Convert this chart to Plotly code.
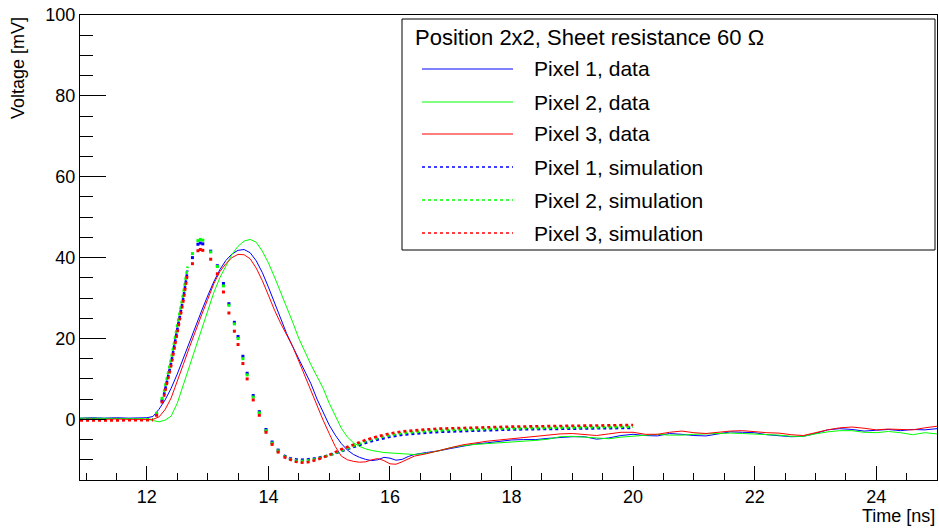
import plotly.graph_objects as go

# ---------------- data ----------------
data_t = [10.9, 11.1, 11.3, 11.5, 11.7, 11.9,
          12.0, 12.1, 12.2, 12.3, 12.4, 12.5, 12.6, 12.7, 12.8, 12.9,
          13.0, 13.1, 13.2, 13.3, 13.4, 13.5, 13.6, 13.7, 13.8, 13.9,
          14.0, 14.1, 14.2, 14.3, 14.4, 14.5, 14.6, 14.7, 14.8, 14.9,
          15.0, 15.1, 15.2, 15.3, 15.4, 15.5, 15.6, 15.7, 15.8, 15.9,
          16.0, 16.1, 16.2, 16.3, 16.4,
          16.6, 16.8, 17.0, 17.2, 17.4, 17.6, 17.8, 18.0, 18.2, 18.4,
          18.6, 18.8, 19.0, 19.2, 19.4, 19.6, 19.8, 20.0, 20.2, 20.4,
          20.6, 20.8, 21.0, 21.2, 21.4, 21.6, 21.8, 22.0, 22.2, 22.4,
          22.6, 22.8, 23.0, 23.2, 23.4, 23.6, 23.8, 24.0, 24.2, 24.4,
          24.6, 24.8, 25.0]

data_p1 = [0.3, 0.4, 0.3, 0.4, 0.3, 0.3,
           0.4, 0.7, 2.5, 4.8, 7.7, 11.2, 15.2, 19.0, 23.0, 26.8,
           30.5, 34.0, 37.0, 39.3, 40.9, 41.8, 42.0, 41.2, 39.2, 36.3,
           32.7, 28.8, 24.6, 21.2, 18.0, 14.9, 12.0, 8.8, 5.0, 1.6,
           -1.4, -3.9, -6.0, -7.6, -8.7, -9.4, -9.9, -10.2, -10.0, -9.4,
           -9.6, -10.1, -9.9, -9.2, -8.7,
           -8.2, -7.8, -7.2, -6.6, -6.1, -5.8, -5.4, -5.1, -5.0, -5.0,
           -4.7, -4.5, -4.3, -4.3, -4.9, -4.6, -4.0, -3.7, -4.0, -4.1,
           -3.5, -3.7, -4.0, -4.1, -3.6, -3.1, -3.2, -3.3, -3.8, -4.1,
           -4.3, -4.2, -3.5, -2.6, -2.3, -2.5, -2.9, -2.7, -2.5, -2.8,
           -2.5, -2.6, -2.3]

data_p2 = [0.3, 0.3, 0.2, 0.3, 0.2, 0.1,
           0.0, -0.3, -0.6, -0.2, 0.8, 4.0, 8.5, 13.0, 17.5, 22.0,
           26.8, 31.3, 35.0, 38.0, 40.8, 42.8, 44.1, 44.5, 43.8, 41.6,
           38.7, 35.2, 31.5, 28.0, 24.0, 20.0, 16.6, 13.5, 10.6, 7.7,
           4.0, 0.8, -2.2, -4.4, -5.8, -6.7, -7.3, -7.7, -8.0, -8.2,
           -8.3, -8.4, -8.5, -8.6, -8.7,
           -8.4, -7.8, -7.0, -6.5, -6.2, -6.0, -5.8, -5.6, -5.5, -5.2,
           -4.9, -4.3, -4.2, -4.4, -4.7, -4.8, -4.4, -4.2, -4.0, -3.7,
           -3.9, -3.9, -3.7, -3.6, -3.5, -3.4, -3.5, -3.6, -3.7, -3.9,
           -4.2, -4.2, -3.6, -3.1, -2.8, -2.8, -3.2, -3.3, -3.0, -3.3,
           -3.8, -3.3, -3.6]

data_p3 = [0.0, 0.1, 0.0, 0.1, 0.0, 0.0,
           0.0, 0.0, 0.6, 2.4, 5.3, 9.2, 13.6, 17.8, 22.0, 25.8,
           29.6, 33.5, 36.5, 38.5, 40.0, 40.8, 40.7, 39.7, 37.4, 34.3,
           30.7, 27.0, 23.8, 21.0, 18.0, 14.4, 10.8, 7.0, 3.2, -0.2,
           -3.5, -6.7, -9.1, -10.0, -10.4, -10.6, -10.5, -10.0, -9.7, -10.2,
           -11.0, -11.1, -10.5, -9.7, -9.1,
           -8.5, -7.7, -7.0, -6.3, -5.8, -5.4, -5.1, -4.8, -4.5, -4.2,
           -3.9, -3.6, -3.5, -3.8, -4.0, -3.6, -3.2, -3.2, -3.7, -3.7,
           -3.2, -2.9, -3.3, -3.5, -3.2, -2.9, -2.8, -3.1, -3.3, -3.4,
           -3.8, -4.0, -3.3, -2.6, -2.1, -1.9, -2.2, -2.6, -2.4, -2.5,
           -2.6, -2.1, -1.7]

# simulation: dense baseline, dense rise, sparse fall, dense recovery
sim_base_t = [10.9, 11.5, 12.1]
sim_base_p1 = [-0.1, -0.1, 0.0]
sim_base_p2 = [-0.1, -0.1, 0.0]
sim_base_p3 = [-0.3, -0.3, -0.2]

sim_rise_t = [12.28, 12.4, 12.5, 12.6, 12.67]
sim_rise_p1 = [6.0, 14.0, 22.2, 30.0, 36.8]
sim_rise_p2 = [6.8, 15.0, 23.2, 31.2, 37.8]
sim_rise_p3 = [5.6, 13.2, 21.3, 29.2, 36.0]

sim_pts_t = [12.16, 12.25, 12.75, 12.84, 12.88, 12.92, 13.05, 13.16, 13.26,
             13.35, 13.44, 13.5, 13.58, 13.65, 13.75, 13.85, 13.96, 14.06, 14.16]
sim_pts_p1 = [1.2, 4.6, 40.0, 43.3, 43.6, 43.4, 41.6, 38.0, 33.6,
              28.6, 24.0, 20.5, 15.6, 11.4, 5.9, 1.9, -2.5, -5.6, -7.6]
sim_pts_p2 = [1.5, 5.2, 41.0, 44.2, 44.5, 44.3, 41.4, 37.8, 33.0,
              28.2, 23.6, 20.0, 15.0, 11.0, 5.5, 1.6, -2.8, -5.9, -7.8]
sim_pts_p3 = [1.0, 4.3, 38.5, 41.7, 42.0, 41.8, 39.6, 36.0, 31.5,
              26.3, 21.8, 18.5, 13.8, 10.0, 4.8, 1.0, -3.2, -6.2, -8.1]

sim_rec_t = [14.25, 14.35, 14.45, 14.55, 14.65, 14.8, 15.0, 15.2, 15.4, 15.6,
             15.8, 16.0, 16.2, 16.4, 16.6, 16.8, 17.0, 17.5, 18.0, 18.5,
             19.0, 19.5, 20.0]
sim_rec_p1 = [-8.9, -9.6, -9.9, -10.0, -9.9, -9.6, -8.9, -7.9, -6.8, -5.8,
              -5.0, -4.3, -3.8, -3.5, -3.3, -3.1, -3.0, -2.7, -2.5, -2.4,
              -2.3, -2.2, -2.1]
sim_rec_p2 = [-9.1, -9.8, -10.2, -10.3, -10.2, -9.8, -8.9, -7.7, -6.5, -5.4,
              -4.6, -3.9, -3.4, -3.1, -2.9, -2.7, -2.6, -2.4, -2.2, -2.1,
              -2.0, -1.9, -1.8]
sim_rec_p3 = [-9.3, -10.0, -10.5, -10.7, -10.6, -10.0, -8.8, -7.4, -6.2, -5.1,
              -4.2, -3.5, -3.0, -2.7, -2.5, -2.3, -2.2, -2.0, -1.8, -1.7,
              -1.6, -1.5, -1.4]

legend_title = "Position 2x2, Sheet resistance 60 \u03a9"
legend_labels = ["Pixel 1, data", "Pixel 2, data", "Pixel 3, data",
                 "Pixel 1, simulation", "Pixel 2, simulation", "Pixel 3, simulation"]
colors = ["#0000ff", "#00ff00", "#ff0000"]

# ---------------- figure ----------------
W, H = 939, 528
L, R, T, B = 80, 2, 15, 48
PW, PH = W - L - R, H - T - B
FONT = "Liberation Sans, Arial, Helvetica, sans-serif"


def xp(px):
    return (px - L) / PW


def yp(py):
    return (T + PH - py) / PH


fig = go.Figure()

for vals, c in zip([data_p1, data_p2, data_p3], colors):
    fig.add_trace(go.Scatter(x=data_t, y=vals, mode="lines",
                             line=dict(color=c, width=1), showlegend=False,
                             hoverinfo="skip"))

sims = [
    (sim_base_p1, sim_rise_p1, sim_pts_p1, sim_rec_p1),
    (sim_base_p2, sim_rise_p2, sim_pts_p2, sim_rec_p2),
    (sim_base_p3, sim_rise_p3, sim_pts_p3, sim_rec_p3),
]
for (base, rise, pts, rec), c in zip(sims, colors):
    for tt, vv in [(sim_base_t, base), (sim_rise_t, rise), (sim_rec_t, rec)]:
        fig.add_trace(go.Scatter(x=tt, y=vv, mode="lines",
                                 line=dict(color=c, width=2.6, dash="dot"),
                                 showlegend=False, hoverinfo="skip"))
    fig.add_trace(go.Scatter(x=sim_pts_t, y=pts, mode="markers",
                             marker=dict(color=c, size=3, symbol="square",
                                         line=dict(width=0)),
                             showlegend=False, hoverinfo="skip"))

fig.update_layout(
    width=W, height=H,
    margin=dict(l=L, r=R, t=T, b=B, pad=0),
    paper_bgcolor="white", plot_bgcolor="white",
    font=dict(family=FONT, size=18, color="black"),
    showlegend=False,
)
fig.update_xaxes(range=[10.9, 25], showgrid=False, zeroline=False,
                 showline=True, linecolor="black", linewidth=1, mirror=True,
                 ticks="inside", ticklen=14, tickcolor="black", dtick=2, tick0=0,
                 tickfont=dict(size=18),
                 minor=dict(ticks="inside", ticklen=7, dtick=0.5, tick0=0,
                            tickcolor="black", showgrid=False))
fig.update_yaxes(range=[-15, 100], showgrid=False, zeroline=False,
                 showline=True, linecolor="black", linewidth=1, mirror=True,
                 ticks="inside", ticklen=26, tickcolor="black", dtick=20, tick0=0,
                 tickfont=dict(size=18),
                 minor=dict(ticks="inside", ticklen=13, dtick=5, tick0=0,
                            tickcolor="black", showgrid=False))

# axis titles
fig.add_annotation(text="Voltage [mV]", xref="paper", yref="paper",
                   x=xp(18), y=1.0, xanchor="center", yanchor="top",
                   textangle=-90, showarrow=False, font=dict(size=18))
fig.add_annotation(text="Time [ns]", xref="paper", yref="paper",
                   x=xp(937), y=yp(528), xanchor="right", yanchor="bottom",
                   showarrow=False, font=dict(size=18))

# legend box (drawn manually, ROOT style)
fig.add_shape(type="rect", xref="paper", yref="paper",
              x0=xp(402), x1=xp(935), y0=yp(250), y1=yp(19),
              line=dict(color="black", width=1), fillcolor="white", layer="above")
fig.add_annotation(text=legend_title, xref="paper", yref="paper",
                   x=xp(413), y=yp(37), xanchor="left", yanchor="middle",
                   showarrow=False, font=dict(size=22))
entry_y = [69, 102, 134, 167, 200, 233]
for i, (lab, py) in enumerate(zip(legend_labels, entry_y)):
    c = colors[i % 3]
    sim = i >= 3
    fig.add_shape(type="line", xref="paper", yref="paper",
                  x0=xp(422), x1=xp(513), y0=yp(py), y1=yp(py),
                  line=dict(color=c, width=1.6 if sim else 1,
                            dash="dot" if sim else "solid"), layer="above")
    fig.add_annotation(text=lab, xref="paper", yref="paper",
                       x=xp(532), y=yp(py), xanchor="left", yanchor="middle",
                       showarrow=False, font=dict(size=21))

fig.write_html("out.html")
